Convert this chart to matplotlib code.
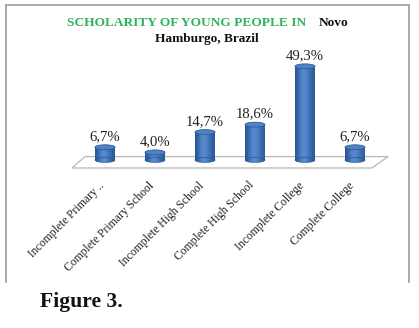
import matplotlib
matplotlib.use("Agg")
import matplotlib.pyplot as plt
from matplotlib.patches import Ellipse, Rectangle, Polygon, PathPatch
from matplotlib.path import Path
from matplotlib.lines import Line2D
import numpy as np

categories = ["Incomplete Primary ..", "Complete Primary School", "Incomplete High School",
              "Complete High School", "Incomplete College", "Complete College"]
values = [6.7, 4.0, 14.7, 18.6, 49.3, 6.7]
value_labels = ["6,7%", "4,0%", "14,7%", "18,6%", "49,3%", "6,7%"]

W, H = 419, 328
SERIF = ["Liberation Serif", "DejaVu Serif"]

fig = plt.figure(figsize=(W / 100, H / 100), dpi=100)
fig.patch.set_facecolor("white")

def fx(px):
    return px / W

def fy(py):
    return 1 - py / H

# chart area: 1 x-unit = 50 px, 1 % = 1.9 px, bar 0 centred at px 105, floor at py 160
ax = fig.add_axes([fx(65), fy(188.5), 330 / W, 133 / H])
ax.set_xlim(-0.8, 5.8)
ax.set_ylim(-15, 55)
ax.axis("off")

# floor
floor = Polygon([(-0.66, -4.2), (-0.40, 1.8), (5.66, 1.8), (5.34, -4.2)], closed=True,
                facecolor="white", edgecolor="#b8b8b8", lw=0.9, zorder=1)
ax.add_patch(floor)

bw = 0.4
eh = 2.6
grad = np.array([[0.0, 0.45, 0.8, 1.0, 0.85, 0.6, 0.35, 0.1]])
cmap = matplotlib.colors.LinearSegmentedColormap.from_list(
    "cyl", ["#2a5592", "#3e6fb4", "#5a8dcf"])

for i, v in enumerate(values):
    # body + bottom cap as one clip path
    body = Rectangle((i - bw / 2, 0), bw, v)
    bottom = Ellipse((i, 0), bw, eh)
    verts = np.vstack([body.get_patch_transform().transform(body.get_path().vertices),
                       bottom.get_patch_transform().transform(bottom.get_path().vertices)])
    codes = np.concatenate([body.get_path().codes if body.get_path().codes is not None
                            else [Path.MOVETO] + [Path.LINETO] * (len(body.get_path().vertices) - 2) + [Path.CLOSEPOLY],
                            bottom.get_path().codes])
    clip = PathPatch(Path(verts, codes), facecolor="none", edgecolor="none", transform=ax.transData)
    ax.add_patch(clip)
    im = ax.imshow(grad, cmap=cmap, aspect="auto", interpolation="bicubic",
                   extent=(i - bw / 2, i + bw / 2, -eh / 2, v), zorder=2)
    im.set_clip_path(clip)
    ax.add_patch(Ellipse((i, 0), bw, eh, facecolor="none", edgecolor="#2a5590", lw=0.5, zorder=3))
    ax.add_patch(Ellipse((i, v), bw, eh, facecolor="#4f82c4", edgecolor="#2d5a98", lw=0.6, zorder=4))
    ax.text(i, v + eh / 2 + 1.0, value_labels[i], ha="center", va="bottom",
            fontsize=10.6, family=SERIF, color="#222222", zorder=5)
    ax.text(i - 0.05, -12.5, categories[i], ha="right", va="center", rotation=45,
            rotation_mode="anchor", fontsize=8.4, family=SERIF, color="#222222")

# title
fig.text(fx(67), fy(26), "SCHOLARITY OF YOUNG PEOPLE IN", ha="left", va="baseline",
         fontsize=9.6, fontweight="bold", family=SERIF, color="#2eb35c")
fig.text(fx(319), fy(26), "Novo", ha="left", va="baseline",
         fontsize=9.6, fontweight="bold", family=SERIF, color="#111111")
fig.text(fx(207), fy(42), "Hamburgo, Brazil", ha="center", va="baseline",
         fontsize=9.6, fontweight="bold", family=SERIF, color="#111111")

# border of the chart area
for xs, ys in [([5.5, 5.5], [5, 282]), ([409, 409], [5, 282]), ([5.5, 409], [5, 5])]:
    fig.add_artist(Line2D([fx(x) for x in xs], [fy(y) for y in ys], color="#a4a4a4", lw=1.3))

fig.text(fx(40), fy(307), "Figure 3.", ha="left", va="baseline",
         fontsize=15.6, fontweight="bold", family=SERIF, color="#111111")

fig.savefig("out.png", dpi=100)
